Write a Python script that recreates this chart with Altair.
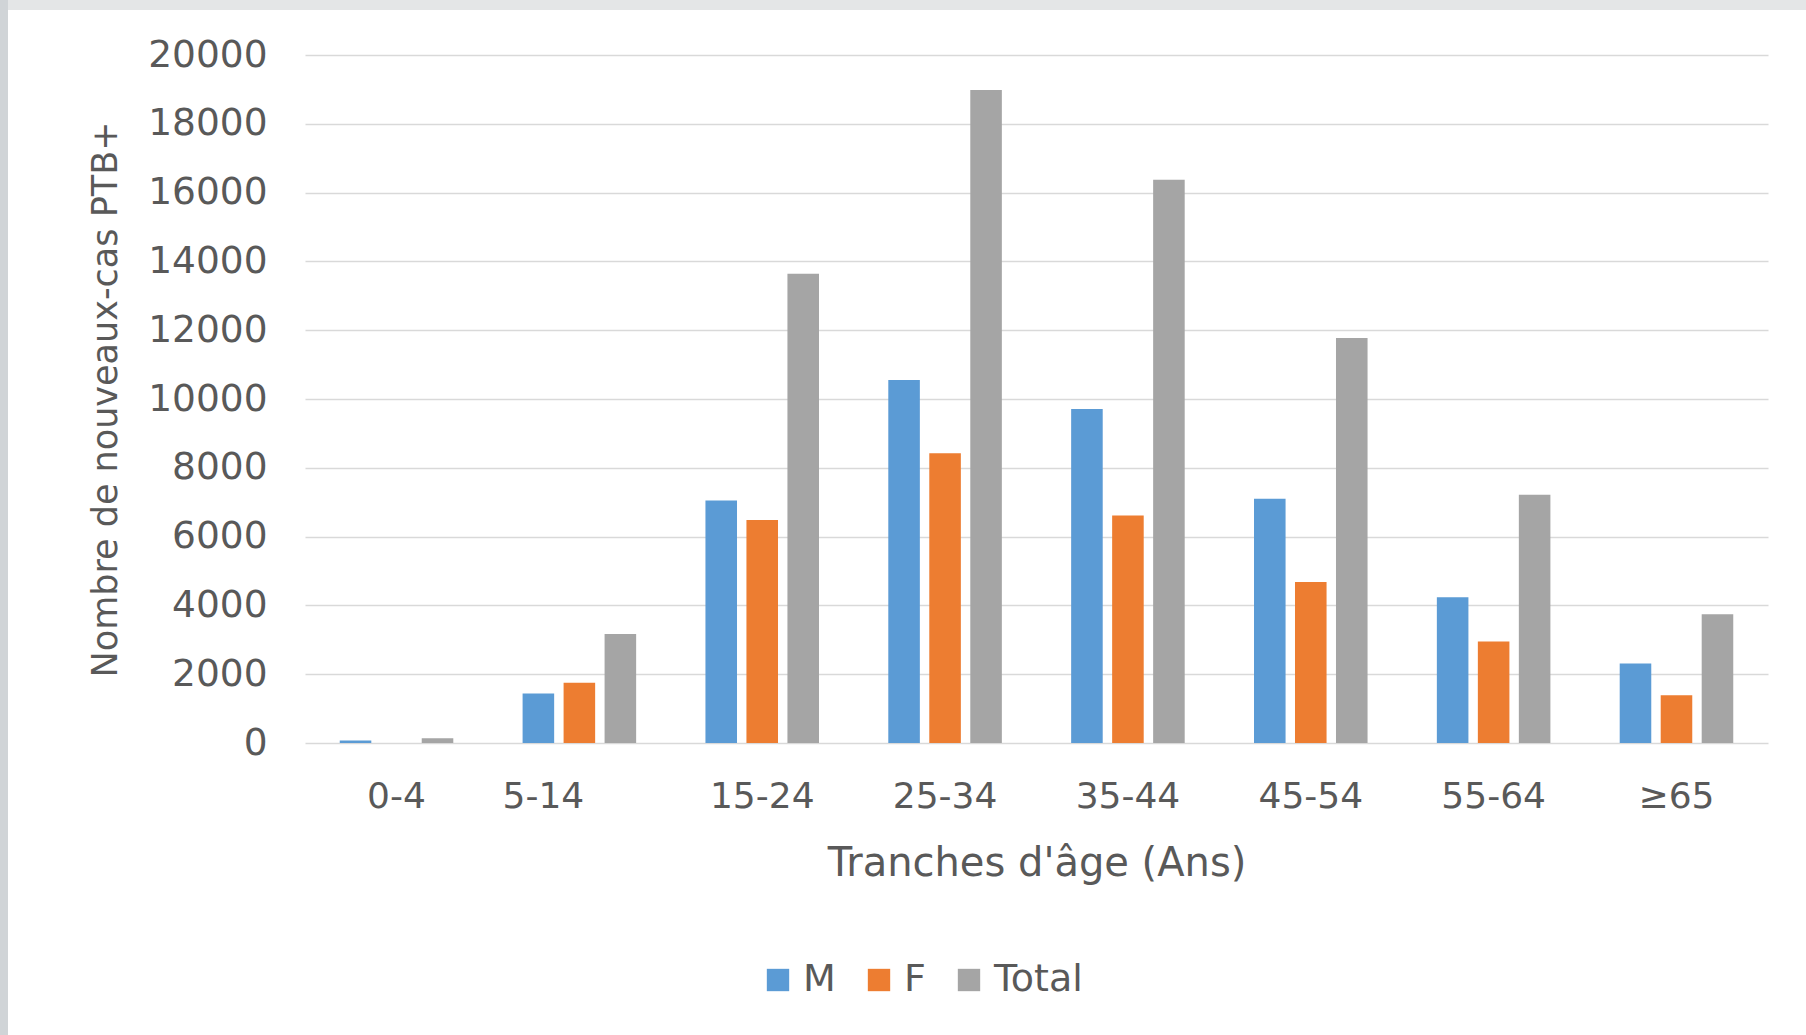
import altair as alt
import pandas as pd

# New smear-positive pulmonary TB cases by age group and sex
age_groups = ["0-4", "5-14", "15-24", "25-34", "35-44", "45-54", "55-64", "≥65"]
male = [70, 1440, 7050, 10550, 9710, 7100, 4240, 2310]
female = [0, 1750, 6480, 8420, 6610, 4680, 2950, 1390]
total = [140, 3170, 13640, 18980, 16370, 11770, 7220, 3740]

series_names = ["M", "F", "Total"]
series_colors = ["#5B9BD5", "#ED7D31", "#A5A5A5"]

rows = []
for name, values in zip(series_names, [male, female, total]):
    for age, v in zip(age_groups, values):
        rows.append({"age": age, "serie": name, "cas": v})
df = pd.DataFrame(rows)

FONT = "DejaVu Sans"
TEXT = "#595959"

bars = alt.Chart(df).mark_bar().encode(
    x=alt.X(
        "age:N",
        sort=age_groups,
        scale=alt.Scale(paddingInner=0.379, paddingOuter=0.19),
        axis=alt.Axis(
            title="Tranches d'âge (Ans)",
            labelAngle=0,
            labelFont=FONT,
            labelFontSize=36,
            labelColor=TEXT,
            labelPadding=36,
            labelOffset={"condition": {"test": "datum.value == '5-14'", "value": -36}, "value": 0},
            ticks=False,
            domain=False,
            titleFont=FONT,
            titleFontSize=40,
            titleFontWeight="normal",
            titleColor=TEXT,
            titleBaseline="alphabetic",
            titleY=132,
        ),
    ),
    xOffset=alt.XOffset(
        "serie:N",
        sort=series_names,
        scale=alt.Scale(paddingInner=0.23, paddingOuter=0),
    ),
    y=alt.Y(
        "cas:Q",
        scale=alt.Scale(domain=[0, 20000], nice=False),
        axis=alt.Axis(
            title="Nombre de nouveaux-cas PTB+",
            values=list(range(0, 20001, 2000)),
            format="d",
            labelFont=FONT,
            labelFontSize=37.5,
            labelColor=TEXT,
            labelPadding=38,
            ticks=False,
            domain=False,
            grid=True,
            gridColor="#d9d9d9",
            gridWidth=1.6,
            titleFont=FONT,
            titleFontSize=35,
            titleFontWeight="normal",
            titleColor=TEXT,
            titleAngle=-90,
            titleBaseline="middle",
            titleX=-200,
            titleY=344,
        ),
    ),
    color=alt.Color(
        "serie:N",
        sort=series_names,
        scale=alt.Scale(domain=series_names, range=series_colors),
        legend=alt.Legend(
            title=None,
            orient="none",
            direction="horizontal",
            legendX=454,
            legendY=906,
            symbolType="square",
            symbolSize=500,
            symbolStrokeWidth=0,
            labelFont=FONT,
            labelFontSize=38,
            labelColor=TEXT,
            labelOffset=6,
            columnPadding=24,
        ),
    ),
)

# light frame along the top and left edges
frame_src = pd.DataFrame({"k": [0]})
top_strip = alt.Chart(frame_src).mark_rect(color="#e4e6e7").encode(
    x=alt.value(-305), x2=alt.value(1501), y=alt.value(-55), y2=alt.value(-45)
)
left_strip = alt.Chart(frame_src).mark_rect(color="#d0d4d7").encode(
    x=alt.value(-305), x2=alt.value(-297), y=alt.value(-55), y2=alt.value(980)
)

chart = alt.layer(bars, top_strip, left_strip).properties(
    width=1463,
    height=688,
    autosize=alt.AutoSizeParams(type="none"),
    padding={"left": 305, "top": 55, "right": 38, "bottom": 292},
    background="white",
).configure_view(stroke=None)

chart.save("out.html", embed_options={"renderer": "svg", "actions": False})
